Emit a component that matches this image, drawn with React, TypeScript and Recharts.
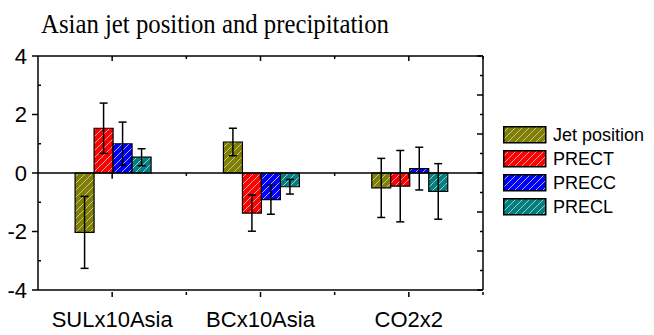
import { BarChart, Bar, XAxis, YAxis, ErrorBar, ReferenceLine } from "recharts";

const categories = ["SULx10Asia", "BCx10Asia", "CO2x2"];
const jetPosition = [-2.03, 1.06, -0.51];
const jetPositionErr = [1.23, 0.47, 1.01];
const prect = [1.53, -1.37, -0.45];
const prectErr = [0.86, 0.62, 1.22];
const precc = [1.0, -0.91, 0.15];
const preccErr = [0.74, 0.5, 0.73];
const precl = [0.54, -0.47, -0.63];
const preclErr = [0.29, 0.25, 0.95];
const leftTicks = [-4, -3, -2, -1, 0, 1, 2, 3, 4];
const rightTicks = [-6, -5, -4, -3, -2, -1, 0, 1, 2, 3, 4, 5, 6];

const series = [
  { key: "jet", name: "Jet position", color: "#808000" },
  { key: "prect", name: "PRECT", color: "#ff0000" },
  { key: "precc", name: "PRECC", color: "#0000ff" },
  { key: "precl", name: "PRECL", color: "#008080" },
];

const data = categories.map((name, i) => ({
  name,
  jet: jetPosition[i],
  jetErr: jetPositionErr[i],
  prect: prect[i],
  prectErr: prectErr[i],
  precc: precc[i],
  preccErr: preccErr[i],
  precl: precl[i],
  preclErr: preclErr[i],
}));

const W = 654;
const H = 335;
const LEFT = 38;
const RIGHT = 171;
const TOP = 56;
const BOTTOM = 45;
const band = (W - LEFT - RIGHT) / categories.length;
const sans = "Arial, 'Liberation Sans', sans-serif";

const Hatch = ({ id, color }: { id: string; color: string }) => (
  <pattern id={id} patternUnits="userSpaceOnUse" width={7} height={7}>
    <rect width={7} height={7} fill={color} />
    <path d="M-1,1 l2,-2 M0,7 l7,-7 M6,8 l2,-2" stroke="#c8c8c8" strokeWidth={0.9} />
  </pattern>
);

const LeftTick = ({ x, y, payload }: any) => {
  const major = payload.value % 2 === 0;
  return (
    <g>
      {major ? (
        <>
          <line x1={x - 6} x2={x} y1={y} y2={y} stroke="#000" strokeWidth={1.5} />
          <text x={x - 11} y={y} dy="0.36em" textAnchor="end" fontSize={22} fontFamily={sans} fill="#000">
            {payload.value}
          </text>
        </>
      ) : (
        <line x1={x} x2={x + 3} y1={y} y2={y} stroke="#000" strokeWidth={1.5} />
      )}
    </g>
  );
};

const RightTick = ({ x, y, payload }: any) => {
  const len = payload.value % 2 === 0 ? 6 : 3;
  return <line x1={x - len} x2={x} y1={y} y2={y} stroke="#000" strokeWidth={1.5} />;
};

const TopTick = ({ x, y }: any) => (
  <g stroke="#000" strokeWidth={1.5}>
    <line x1={x} x2={x} y1={y} y2={y + 5} />
    <line x1={x + band / 2} x2={x + band / 2} y1={y} y2={y + 3} />
  </g>
);

const BottomTick = ({ x, y, payload }: any) => (
  <g>
    <g stroke="#000" strokeWidth={1.5}>
      <line x1={x} x2={x} y1={y} y2={y + 5} />
      <line x1={x + band / 2} x2={x + band / 2} y1={y} y2={y + 3} />
    </g>
    <text x={x} y={y + 35} textAnchor="middle" fontSize={22} fontFamily={sans} fill="#000">
      {payload.value}
    </text>
  </g>
);

const LegendBox = () => (
  <svg width={151} height={100} style={{ position: "absolute", left: 503, top: 126 }}>
    {series.map((s, i) => (
      <g key={s.key} transform={`translate(0, ${i * 24})`}>
        <rect x={0.75} y={0.75} width={42} height={16} fill={`url(#hatch-${s.key})`} stroke="#000" strokeWidth={1.5} />
        <text x={50} y={15} fontSize={18} fontFamily={sans} fill="#000">
          {s.name}
        </text>
      </g>
    ))}
  </svg>
);

const Title = () => (
  <svg width={W} height={48} style={{ position: "absolute", left: 0, top: 0 }}>
    <text
      x={41}
      y={33}
      fontSize={28}
      fontFamily="'Times New Roman', 'Liberation Serif', serif"
      textLength={348}
      lengthAdjust="spacingAndGlyphs"
      fill="#000"
    >
      Asian jet position and precipitation
    </text>
  </svg>
);

export default function App() {
  return (
    <div style={{ position: "absolute", left: 0, top: 0, width: W, height: H, background: "#fff" }}>
      <BarChart
        width={W}
        height={H}
        data={data}
        margin={{ top: TOP - 10, right: RIGHT - 10, bottom: 0, left: 0 }}
        barCategoryGap="25%"
        barGap={0}
      >
        <defs>
          {series.map((s) => (
            <Hatch key={s.key} id={`hatch-${s.key}`} color={s.color} />
          ))}
        </defs>
        <XAxis
          dataKey="name"
          xAxisId="bottom"
          height={BOTTOM}
          axisLine={{ stroke: "#000", strokeWidth: 1.5 }}
          tickLine={false}
          tickSize={0}
          tick={<BottomTick />}
          interval={0}
        />
        <XAxis
          dataKey="name"
          xAxisId="top"
          orientation="top"
          height={10}
          axisLine={{ stroke: "#000", strokeWidth: 1.5 }}
          tickLine={false}
          tickSize={0}
          tickMargin={0}
          tick={<TopTick />}
          interval={0}
        />
        <YAxis
          yAxisId="left"
          width={LEFT}
          domain={[-4, 4]}
          ticks={leftTicks}
          interval={0}
          axisLine={{ stroke: "#000", strokeWidth: 1.5 }}
          tickLine={false}
          tickSize={0}
          tickMargin={0}
          tick={<LeftTick />}
        />
        <YAxis
          yAxisId="right"
          orientation="right"
          width={10}
          domain={[-6, 6]}
          ticks={rightTicks}
          interval={0}
          axisLine={{ stroke: "#000", strokeWidth: 1.5 }}
          tickLine={false}
          tickSize={0}
          tickMargin={0}
          tick={<RightTick />}
        />
        <ReferenceLine y={0} yAxisId="left" xAxisId="bottom" stroke="#000" strokeWidth={1.5} />
        {categories.map((c) => (
          <ReferenceLine
            key={`c-${c}`}
            yAxisId="left"
            xAxisId="bottom"
            segment={[
              { x: c, y: 0 },
              { x: c, y: -0.2 },
            ]}
            stroke="#000"
            strokeWidth={1.5}
          />
        ))}
        {categories.slice(0, -1).map((c) => (
          <ReferenceLine
            key={`b-${c}`}
            yAxisId="left"
            xAxisId="bottom"
            position="end"
            segment={[
              { x: c, y: 0 },
              { x: c, y: -0.1 },
            ]}
            stroke="#000"
            strokeWidth={1.5}
          />
        ))}
        {series.map((s) => (
          <Bar
            key={s.key}
            dataKey={s.key}
            name={s.name}
            xAxisId="bottom"
            yAxisId="left"
            fill={`url(#hatch-${s.key})`}
            stroke="#000"
            strokeWidth={1.2}
            isAnimationActive={false}
          >
            <ErrorBar dataKey={`${s.key}Err`} width={4} stroke="#000" strokeWidth={1.5} />
          </Bar>
        ))}
        <Bar dataKey="jet" xAxisId="top" yAxisId="right" fill="none" isAnimationActive={false} legendType="none" />
      </BarChart>
      <Title />
      <LegendBox />
    </div>
  );
}
